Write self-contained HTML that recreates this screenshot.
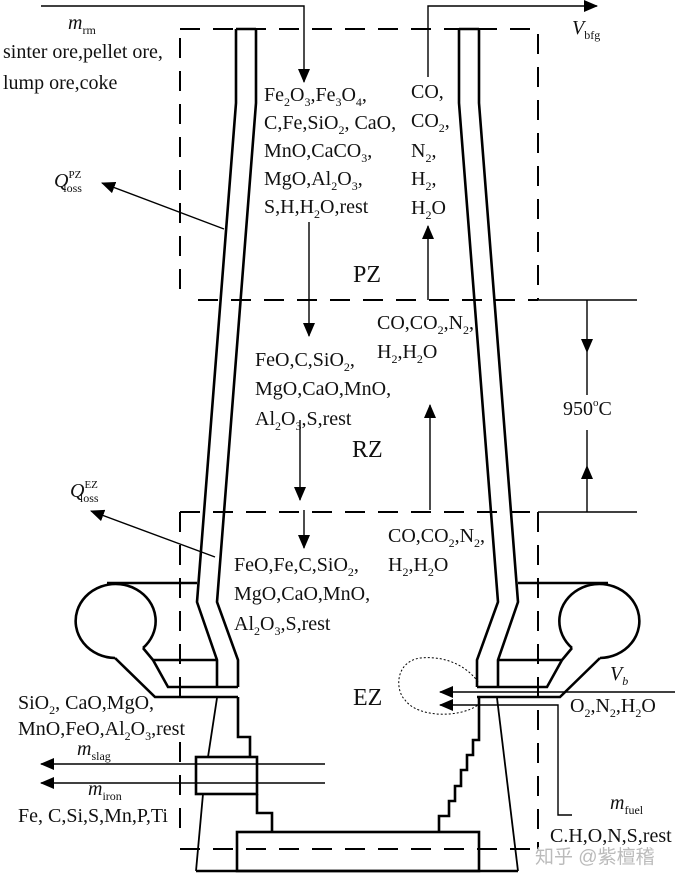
<!DOCTYPE html>
<html><head><meta charset="utf-8">
<style>
html,body{margin:0;padding:0;background:#fff;}
#c{position:relative;width:680px;height:887px;overflow:hidden;font-family:"Liberation Serif",serif;color:#111;}
.t{position:absolute;font-size:20px;line-height:20px;white-space:nowrap;}
.t sub{font-size:12px;vertical-align:-5px;line-height:0;}
.t sup{font-size:11px;vertical-align:9px;line-height:0;}
.big{font-size:24px;line-height:24px;}
svg{position:absolute;left:0;top:0;}
</style></head><body><div id="c">
<svg width="680" height="887" viewBox="0 0 680 887">
<defs>
<marker id="ab" markerWidth="14" markerHeight="12" refX="13" refY="6" orient="auto" markerUnits="userSpaceOnUse" viewBox="0 0 14 12"><path d="M0,0 L14,6 L0,12 z" fill="#000"/></marker>
<g id="half" fill="none" stroke="#000" stroke-width="2.6">
  <path d="M236,29 L236,103 L197,602 L217,660 L217,687"/>
  <path d="M256,29 L256,103 L217,602 L238,660 L238,687"/>
  <path d="M236,29 L256,29"/>
  <path d="M107,583 L197,583"/>
  <path d="M143,648 A40,37 0 1 0 115,658"/>
  <path d="M143,648 L153,660 L168,687 L238,687"/>
  <path d="M153,660 L217,660"/>
  <path d="M115,658 L155,697 L238,697"/>
</g>
</defs>
<g fill="none" stroke="#000" stroke-width="2" stroke-dasharray="20,13">
  <path d="M180,38 L180,300"/>
  <path d="M180,29 L538,29 L538,300"/>
  <path d="M198,300 L538,300"/>
  <path d="M180,512 L538,512"/>
  <path d="M180,512 L180,710"/>
  <path d="M180,742 L180,830"/>
  <path d="M538,512 L538,849"/>
  <path d="M180,849 L538,849"/>
</g>
<g fill="none" stroke="#000" stroke-width="1.4">
  <path d="M538,300 L637,300"/>
  <path d="M538,512 L637,512"/>
</g>
<use href="#half"/>
<use href="#half" transform="translate(715,0) scale(-1,1)"/>
<g fill="none" stroke="#000" stroke-width="2.6">
  <path d="M238,697 L238,737 L250,737 L250,757"/>
  <rect x="196" y="757" width="61" height="37"/>
  <path d="M257,794 L257,813 L272,813 L272,832"/>
  <path d="M196,871 L518,871"/>
  <rect x="237" y="832" width="242" height="39"/>
  <path d="M479,697 L479,740 L473,740 L473,755 L467,755 L467,770 L461,770 L461,786 L455,786 L455,801 L449,801 L449,816 L439,816 L439,832"/>
</g>
<g fill="none" stroke="#000" stroke-width="1.8">
  <path d="M217,698 L208,757 M203,794 L196,871"/>
  <path d="M497,698 L518,871"/>
</g>
<g fill="none" stroke="#000" stroke-width="1.4">
  <path d="M41,6 L304,6 L304,82" marker-end="url(#ab)"/>
  <path d="M428,77 L428,6 L597,6" marker-end="url(#ab)"/>
  <path d="M224,229 L102,183" marker-end="url(#ab)"/>
  <path d="M215,557 L91,511" marker-end="url(#ab)"/>
  <path d="M309,222 L309,336" marker-end="url(#ab)"/>
  <path d="M300,420 L300,500" marker-end="url(#ab)"/>
  <path d="M304,510 L304,548" marker-end="url(#ab)"/>
  <path d="M428,300 L428,226" marker-end="url(#ab)"/>
  <path d="M430,510 L430,405" marker-end="url(#ab)"/>
  <path d="M587,300 L587,352" marker-end="url(#ab)"/>
  <path d="M587,352 L587,395"/>
  <path d="M587,512 L587,466" marker-end="url(#ab)"/>
  <path d="M587,466 L587,430"/>
  <path d="M675,692 L440,692" marker-end="url(#ab)"/>
  <path d="M572,815 L558,815 L558,705 L440,705" marker-end="url(#ab)"/>
  <path d="M325,764 L41,764" marker-end="url(#ab)"/>
  <path d="M325,783 L41,783" marker-end="url(#ab)"/>
</g>
<path d="M478,682 C470,670 450,655 420,658 C395,662 395,690 405,700 C418,718 460,718 478,705" fill="none" stroke="#000" stroke-width="1" stroke-dasharray="2,2"/>
</svg>

<div class="t" style="left:68px;top:13px;"><i>m</i><sub>rm</sub></div>
<div class="t" style="left:3px;top:42px;">sinter ore,pellet ore,</div>
<div class="t" style="left:3px;top:73px;">lump ore,coke</div>
<div class="t" style="left:572px;top:18px;"><i>V</i><sub>bfg</sub></div>

<div class="t" style="left:264px;top:85px;">Fe<sub>2</sub>O<sub>3</sub>,Fe<sub>3</sub>O<sub>4</sub>,</div>
<div class="t" style="left:264px;top:113px;">C,Fe,SiO<sub>2</sub>, CaO,</div>
<div class="t" style="left:264px;top:141px;">MnO,CaCO<sub>3</sub>,</div>
<div class="t" style="left:264px;top:169px;">MgO,Al<sub>2</sub>O<sub>3</sub>,</div>
<div class="t" style="left:264px;top:197px;">S,H,H<sub>2</sub>O,rest</div>
<div class="t" style="left:411px;top:82px;">CO,</div>
<div class="t" style="left:411px;top:111px;">CO<sub>2</sub>,</div>
<div class="t" style="left:411px;top:141px;">N<sub>2</sub>,</div>
<div class="t" style="left:411px;top:169px;">H<sub>2</sub>,</div>
<div class="t" style="left:411px;top:198px;">H<sub>2</sub>O</div>
<div class="t" style="left:54px;top:171px;"><i>Q</i><sup>PZ</sup><sub style="margin-left:-18px">loss</sub></div>
<div class="t big" style="left:353px;top:263px;">PZ</div>

<div class="t" style="left:377px;top:313px;">CO,CO<sub>2</sub>,N<sub>2</sub>,</div>
<div class="t" style="left:377px;top:342px;">H<sub>2</sub>,H<sub>2</sub>O</div>
<div class="t" style="left:255px;top:350px;">FeO,C,SiO<sub>2</sub>,</div>
<div class="t" style="left:255px;top:379px;">MgO,CaO,MnO,</div>
<div class="t" style="left:255px;top:409px;">Al<sub>2</sub>O<sub>3</sub>,S,rest</div>
<div class="t big" style="left:352px;top:438px;">RZ</div>
<div class="t" style="left:563px;top:399px;">950<sup>o</sup>C</div>

<div class="t" style="left:70px;top:481px;"><i>Q</i><sup>EZ</sup><sub style="margin-left:-18px">loss</sub></div>
<div class="t" style="left:388px;top:526px;">CO,CO<sub>2</sub>,N<sub>2</sub>,</div>
<div class="t" style="left:388px;top:555px;">H<sub>2</sub>,H<sub>2</sub>O</div>
<div class="t" style="left:234px;top:555px;">FeO,Fe,C,SiO<sub>2</sub>,</div>
<div class="t" style="left:234px;top:584px;">MgO,CaO,MnO,</div>
<div class="t" style="left:234px;top:614px;">Al<sub>2</sub>O<sub>3</sub>,S,rest</div>
<div class="t big" style="left:353px;top:686px;">EZ</div>

<div class="t" style="left:18px;top:693px;">SiO<sub>2</sub>, CaO,MgO,</div>
<div class="t" style="left:18px;top:719px;">MnO,FeO,Al<sub>2</sub>O<sub>3</sub>,rest</div>
<div class="t" style="left:77px;top:739px;"><i>m</i><sub>slag</sub></div>
<div class="t" style="left:88px;top:779px;"><i>m</i><sub>iron</sub></div>
<div class="t" style="left:18px;top:806px;">Fe, C,Si,S,Mn,P,Ti</div>

<div class="t" style="left:610px;top:664px;"><i>V<sub>b</sub></i></div>
<div class="t" style="left:570px;top:696px;">O<sub>2</sub>,N<sub>2</sub>,H<sub>2</sub>O</div>
<div class="t" style="left:610px;top:793px;"><i>m</i><sub>fuel</sub></div>
<div class="t" style="left:550px;top:826px;">C.H,O,N,S,rest</div>
<div class="t" style="left:535px;top:848px;color:#bbb;font-family:'Liberation Sans','Noto Sans CJK SC',sans-serif;font-size:19px;">知乎 @紫檀稽</div>
</div></body></html>
